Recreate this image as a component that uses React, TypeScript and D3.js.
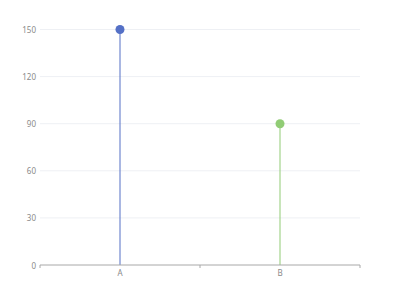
import React from "react";
import * as d3 from "d3";

const categories = ["A", "B"];
const values = [150, 90];
const colors = ["#5470c6", "#91cc75"];
const yTicks = [0, 30, 60, 90, 120, 150];

const W = 400;
const H = 300;
const margin = { top: 29.5, right: 40, bottom: 35, left: 40 };

export default function App() {
  const x = d3
    .scaleBand<string>()
    .domain(categories)
    .range([margin.left, W - margin.right]);
  const y = d3
    .scaleLinear()
    .domain([0, 150])
    .range([H - margin.bottom, margin.top]);
  const font = "'Noto Sans', sans-serif";
  const labelColor = "#8a8a8a";
  const axisColor = "#a8a8a8";
  const boundaries = [...categories.map((c) => x(c)!), W - margin.right];

  return (
    <svg
      width={W}
      height={H}
      style={{ position: "absolute", left: 0, top: 0, background: "#fff" }}
    >
      {yTicks.map((t) => (
        <g key={t}>
          {t !== 0 && (
            <line
              x1={margin.left}
              x2={W - margin.right}
              y1={y(t)}
              y2={y(t)}
              stroke="#eef0f4"
              strokeWidth={1}
            />
          )}
          <text
            x={margin.left - 4}
            y={y(t)}
            textAnchor="end"
            dominantBaseline="central"
            fontSize={8}
            fill={labelColor}
            fontFamily={font}
          >
            {t}
          </text>
        </g>
      ))}
      {categories.map((c, i) => {
        const cx = x(c)! + x.bandwidth() / 2;
        return (
          <g key={c}>
            <line
              x1={cx}
              x2={cx}
              y1={y(0)}
              y2={y(values[i])}
              stroke={colors[i]}
              strokeOpacity={0.5}
              strokeWidth={2}
            />
            <circle cx={cx} cy={y(values[i])} r={4.5} fill={colors[i]} />
            <text
              x={cx}
              y={y(0) + 7}
              textAnchor="middle"
              dominantBaseline="central"
              fontSize={8}
              fill={labelColor}
              fontFamily={font}
            >
              {c}
            </text>
          </g>
        );
      })}
      <line
        x1={margin.left}
        x2={W - margin.right}
        y1={y(0)}
        y2={y(0)}
        stroke={axisColor}
        strokeWidth={1}
      />
      {boundaries.map((b, i) => (
        <line
          key={i}
          x1={b}
          x2={b}
          y1={y(0)}
          y2={y(0) + 3}
          stroke={axisColor}
          strokeWidth={1}
        />
      ))}
    </svg>
  );
}
